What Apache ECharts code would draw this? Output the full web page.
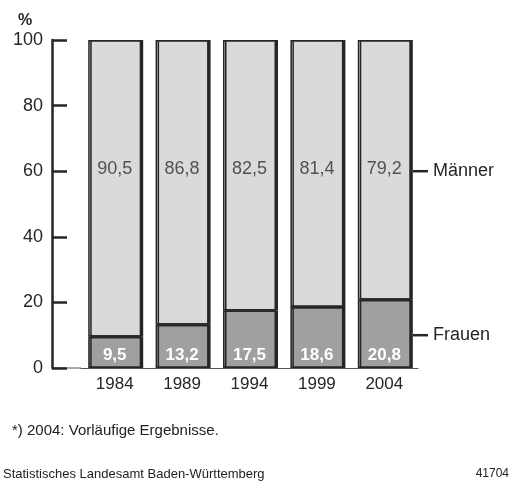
<!DOCTYPE html>
<html>
<head>
<meta charset="utf-8">
<script src="https://cdn.jsdelivr.net/npm/echarts@6/dist/echarts.min.js"></script>
<style>
  html, body { margin: 0; padding: 0; background: #fff; }
  #chart { width: 512px; height: 482px; }
</style>
</head>
<body>
<div id="chart"></div>
<script>
  const years = ['1984', '1989', '1994', '1999', '2004']
  const frauen = [9.5, 13.2, 17.5, 18.6, 20.8]
  const maenner = [90.5, 86.8, 82.5, 81.4, 79.2]
  const yTicks = [0, 20, 40, 60, 80, 100]
  const maennerLabelLevel = 60
  const frauenLabelLevel = 10

  const font = '"Liberation Sans", Arial, sans-serif'
  const dark = '#262626'
  const fmt = v => String(v).replace('.', ',')

  const chart = echarts.init(document.getElementById('chart'))

  const barStyle = color => ({
    color: color,
    borderColor: dark,
    borderWidth: 1.5,
    shadowColor: dark,
    shadowOffsetX: 2,
    shadowBlur: 0,
  })

  chart.setOption({
    animation: false,
    textStyle: { fontFamily: font },
    grid: { left: 81, right: 94, top: 40, bottom: 114 },
    xAxis: {
      type: 'category',
      data: years,
      axisLine: { lineStyle: { color: '#555', width: 1 } },
      axisTick: { show: false },
      axisLabel: { color: dark, fontSize: 17, margin: 8 },
    },
    yAxis: {
      type: 'value',
      min: 0,
      max: 100,
      interval: 20,
      offset: 29,
      splitLine: { show: false },
      axisLine: { show: true, lineStyle: { color: dark, width: 2.5 } },
      axisTick: { show: true, inside: true, length: 15, lineStyle: { color: dark, width: 2.5 } },
      axisLabel: {
        color: dark,
        fontSize: 18,
        margin: 9,
        formatter: v => (yTicks.includes(v) ? String(v) : ''),
      },
    },
    series: [
      {
        name: 'Frauen',
        type: 'bar',
        stack: 'total',
        barWidth: 53,
        data: frauen,
        itemStyle: barStyle('#a0a0a0'),
        label: {
          show: true,
          position: 'insideBottom',
          distance: 4,
          color: '#fff',
          fontWeight: 'bold',
          fontSize: 17,
          formatter: p => fmt(p.value),
        },
      },
      {
        name: 'Männer',
        type: 'bar',
        stack: 'total',
        barWidth: 53,
        data: maenner,
        itemStyle: barStyle('#d9dad9'),
      },
      {
        name: 'MännerLabel',
        type: 'scatter',
        symbolSize: 0,
        silent: true,
        z: 10,
        data: maenner.map((v, i) => ({ value: [i, maennerLabelLevel], real: v })),
        label: {
          show: true,
          position: 'inside',
          offset: [0, -2],
          color: '#2e2e2e',
          fontSize: 18,
          formatter: p => fmt(p.data.real),
        },
      },
    ],
  })

  // Achsen-Ergänzungen und Legende rechts
  const y0 = chart.convertToPixel({ yAxisIndex: 0 }, 0)
  const yM = chart.convertToPixel({ yAxisIndex: 0 }, maennerLabelLevel)
  const yF = chart.convertToPixel({ yAxisIndex: 0 }, frauenLabelLevel)
  const yTop = chart.convertToPixel({ yAxisIndex: 0 }, 100)

  const legendItem = (y, text) => [
    { type: 'line', shape: { x1: 413, y1: y, x2: 428, y2: y }, style: { stroke: dark, lineWidth: 2.5 } },
    { type: 'text', x: 433, y: y, style: { text: text, fill: dark, font: '18px ' + font, verticalAlign: 'middle' } },
  ]

  chart.setOption({
    graphic: [
      { type: 'line', shape: { x1: 52, y1: y0, x2: 81, y2: y0 }, style: { stroke: '#555', lineWidth: 1 } },
      { type: 'text', x: 25, y: yTop - 19, style: { text: '%', fill: dark, font: 'bold 16px ' + font, align: 'center', verticalAlign: 'middle' } },
      ...legendItem(yM, 'Männer'),
      ...legendItem(yF, 'Frauen'),
      { type: 'text', x: 12, y: 431, style: { text: '*) 2004: Vorläufige Ergebnisse.', fill: '#222', font: '15px ' + font, verticalAlign: 'middle' } },
      { type: 'text', x: 3, y: 474, style: { text: 'Statistisches Landesamt Baden-Württemberg', fill: '#222', font: '13px ' + font, verticalAlign: 'middle' } },
      { type: 'text', x: 509, y: 474, style: { text: '41704', fill: '#222', font: '12px ' + font, align: 'right', verticalAlign: 'middle' } },
    ],
  })
</script>
</body>
</html>
